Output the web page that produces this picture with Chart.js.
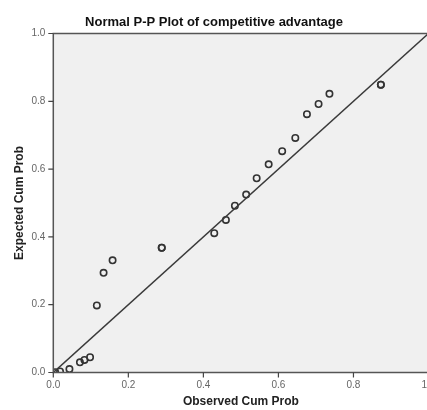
<!DOCTYPE html>
<html>
<head>
<meta charset="utf-8">
<script src="https://cdn.jsdelivr.net/npm/chart.js@4.4.1/dist/chart.umd.min.js"></script>
<style>
  html, body { margin: 0; padding: 0; background: #fff; overflow: hidden; }
  #wrap { width: 445px; height: 410px; }
</style>
</head>
<body>
<div id="wrap"><canvas id="ppChart" width="445" height="410"></canvas></div>
<script>
// observed vs expected cumulative probabilities
const observedCum = [0.005, 0.018, 0.043, 0.071, 0.083, 0.098, 0.116, 0.134, 0.158, 0.289, 0.289,
    0.429, 0.460, 0.484, 0.514, 0.542, 0.574, 0.610, 0.645, 0.676, 0.707, 0.736, 0.873, 0.873];
const expectedCum = [0.001, 0.003, 0.010, 0.030, 0.037, 0.045, 0.198, 0.294, 0.331, 0.368, 0.368,
    0.411, 0.450, 0.492, 0.525, 0.573, 0.614, 0.653, 0.692, 0.762, 0.792, 0.822, 0.849, 0.849];
const refLineX = [0, 1];
const refLineY = [0, 1];
const tickValues = [0, 0.2, 0.4, 0.6, 0.8, 1.0];

const points = observedCum.map((x, i) => ({ x: x, y: expectedCum[i] }));
const refLine = refLineX.map((x, i) => ({ x: x, y: refLineY[i] }));

const panelPlugin = {
    id: 'panel',
    beforeDatasetsDraw(chart) {
        const a = chart.chartArea, c = chart.ctx;
        c.save();
        c.fillStyle = '#f0f0f0';
        c.fillRect(a.left, a.top, a.right - a.left, a.bottom - a.top);
        c.restore();
    },
    afterDraw(chart) {
        const a = chart.chartArea, c = chart.ctx;
        const xs = chart.scales.x, ys = chart.scales.y;
        c.save();
        c.strokeStyle = '#555';
        c.lineWidth = 1.5;
        c.strokeRect(a.left, a.top, a.right - a.left, a.bottom - a.top);
        // small outward tick marks
        c.strokeStyle = '#444';
        c.lineWidth = 1.2;
        c.beginPath();
        tickValues.forEach(v => {
            const px = xs.getPixelForValue(v);
            c.moveTo(px, a.bottom); c.lineTo(px, a.bottom + 5);
            const py = ys.getPixelForValue(v);
            c.moveTo(a.left, py); c.lineTo(a.left - 5, py);
        });
        c.stroke();
        // title is centred on the visible 427px picture
        c.fillStyle = '#111';
        c.font = 'bold 13px "Liberation Sans", Arial, sans-serif';
        c.textAlign = 'center';
        c.textBaseline = 'middle';
        c.fillText('Normal P-P Plot of competitive advantage', 214, 22);
        c.restore();
    }
};

const ctx = document.getElementById('ppChart').getContext('2d');
new Chart(ctx, {
    type: 'scatter',
    data: {
        datasets: [{
            type: 'line',
            data: refLine,
            borderColor: '#3a3a3a',
            borderWidth: 1.5,
            pointRadius: 0,
            fill: false
        }, {
            data: points,
            pointRadius: 3.2,
            pointBorderWidth: 1.6,
            pointBackgroundColor: 'rgba(0,0,0,0)',
            pointBorderColor: '#333'
        }]
    },
    options: {
        responsive: false,
        animation: false,
        devicePixelRatio: 1,
        layout: { padding: { top: 33.5, right: 16.5, left: 0, bottom: 0 } },
        plugins: { legend: { display: false }, tooltip: { enabled: false } },
        scales: {
            x: {
                type: 'linear', min: 0, max: 1,
                afterFit: s => { s.height = 37.5; },
                afterBuildTicks: s => { s.ticks = tickValues.map(v => ({ value: v })); },
                grid: { display: false, drawTicks: true, tickLength: 5 },
                border: { display: false },
                ticks: { color: '#666', font: { size: 10, family: '"Liberation Sans", Arial' }, padding: 2,
                    callback: v => v.toFixed(1) },
                title: { display: true, text: 'Observed Cum Prob', color: '#222', padding: { top: 0, bottom: 1 },
                    font: { size: 12, weight: 'bold', family: '"Liberation Sans", Arial' } }
            },
            y: {
                type: 'linear', min: 0, max: 1,
                afterFit: s => { s.width = 53.3; },
                afterBuildTicks: s => { s.ticks = tickValues.map(v => ({ value: v })); },
                grid: { display: false, drawTicks: true, tickLength: 6 },
                border: { display: false },
                ticks: { color: '#666', font: { size: 10, family: '"Liberation Sans", Arial' }, padding: 2,
                    callback: v => v.toFixed(1) },
                title: { display: true, text: 'Expected Cum Prob', color: '#222', padding: { top: 12, bottom: 0 },
                    font: { size: 12, weight: 'bold', family: '"Liberation Sans", Arial' } }
            }
        }
    },
    plugins: [panelPlugin]
});
</script>
</body>
</html>
